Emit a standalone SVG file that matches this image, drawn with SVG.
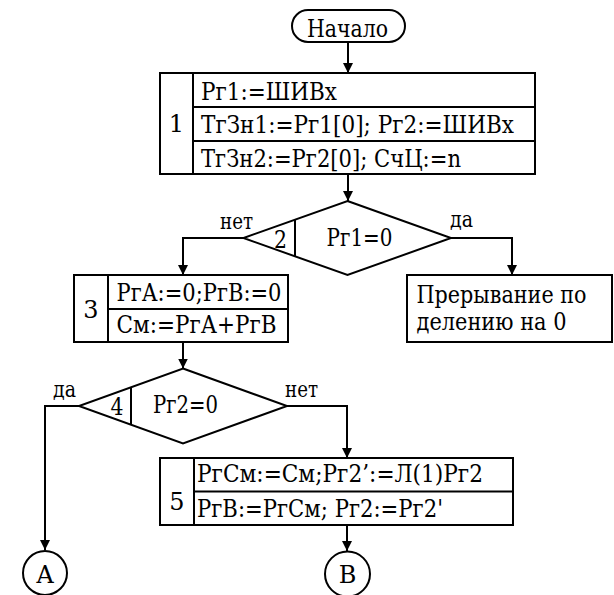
<svg xmlns="http://www.w3.org/2000/svg" width="614" height="595" viewBox="0 0 614 595" font-family="'DejaVu Serif', 'Liberation Serif', serif" font-size="24">
<defs>
<style>
.s{fill:#fff;stroke:#000;stroke-width:2}
.l{fill:none;stroke:#000;stroke-width:2}
.c{fill:none;stroke:#000;stroke-width:2;marker-end:url(#ah)}
.lb{font-size:21.5px}
.m{text-anchor:middle}
.e{font-size:23.5px}
</style>
<marker id="ah" markerWidth="10" markerHeight="12" refX="10" refY="5" orient="auto" markerUnits="userSpaceOnUse" viewBox="0 0 10 10">
<path d="M0,0 L10,5 L0,10 z" fill="#000"/>
</marker>
</defs>
<rect width="614" height="595" fill="#fff"/>
<g id="connectors">
<line class="c" x1="348" y1="42" x2="348" y2="73"/>
<line class="c" x1="348" y1="174" x2="348" y2="201"/>
<polyline class="c" points="243.5,238 183,238 183,275"/>
<polyline class="c" points="451,238 512,238 512,275"/>
<line class="c" x1="183" y1="342" x2="183" y2="368.5"/>
<polyline class="c" points="79,406 45,406 45,550"/>
<polyline class="c" points="287,406 347,406 347,458"/>
<line class="c" x1="347" y1="525" x2="347" y2="551"/>
<text class="lb" x="220" y="229" textLength="33" lengthAdjust="spacingAndGlyphs">нет</text>
<text class="lb" x="450" y="227" textLength="23" lengthAdjust="spacingAndGlyphs">да</text>
<text class="lb" x="53" y="397" textLength="23" lengthAdjust="spacingAndGlyphs">да</text>
<text class="lb" x="285" y="397" textLength="33" lengthAdjust="spacingAndGlyphs">нет</text>
</g>
<g id="start">
<rect class="s" x="292" y="10" width="113" height="32" rx="16"/>
<text x="307" y="37" textLength="81" lengthAdjust="spacingAndGlyphs">Начало</text>
</g>
<g id="b1">
<rect class="s" x="160" y="73" width="375" height="101"/>
<line class="l" x1="193" y1="73" x2="193" y2="174"/>
<line class="l" x1="193" y1="107" x2="535" y2="107"/>
<line class="l" x1="193" y1="141" x2="535" y2="141"/>
<text class="m" x="176.5" y="132">1</text>
<text x="201" y="99.5" textLength="136" lengthAdjust="spacingAndGlyphs">Рг1:=ШИВх</text>
<text x="201" y="133" textLength="313" lengthAdjust="spacingAndGlyphs">ТгЗн1:=Рг1[0]; Рг2:=ШИВх</text>
<text x="201" y="166.5" textLength="260" lengthAdjust="spacingAndGlyphs">ТгЗн2:=Рг2[0]; СчЦ:=n</text>
</g>
<g id="d2">
<polygon class="s" points="347.5,201 451,238 347.5,275 243.5,238"/>
<line class="l" x1="295" y1="219.7" x2="295" y2="256.3"/>
<text x="274" y="248" textLength="13" lengthAdjust="spacingAndGlyphs">2</text>
<text x="326.5" y="245.5" textLength="66" lengthAdjust="spacingAndGlyphs">Рг1=0</text>
</g>
<g id="b3">
<rect class="s" x="74" y="275" width="214" height="67"/>
<line class="l" x1="108" y1="275" x2="108" y2="342"/>
<line class="l" x1="108" y1="309" x2="288" y2="309"/>
<text class="m" x="91" y="318">3</text>
<text x="116.5" y="300.5" textLength="165" lengthAdjust="spacingAndGlyphs">РгА:=0;РгВ:=0</text>
<text x="116.5" y="333" textLength="160" lengthAdjust="spacingAndGlyphs">См:=РгА+РгВ</text>
</g>
<g id="err">
<rect class="s" x="407" y="275" width="205" height="67"/>
<text class="e" x="416.5" y="303" textLength="170" lengthAdjust="spacingAndGlyphs">Прерывание по</text>
<text class="e" x="416.5" y="330" textLength="150" lengthAdjust="spacingAndGlyphs">делению на 0</text>
</g>
<g id="d4">
<polygon class="s" points="183,368.5 287,406 183,443.5 79,406"/>
<line class="l" x1="131" y1="387.3" x2="131" y2="424.7"/>
<text x="110.5" y="415" textLength="13" lengthAdjust="spacingAndGlyphs">4</text>
<text x="153" y="412.5" textLength="65" lengthAdjust="spacingAndGlyphs">Рг2=0</text>
</g>
<g id="b5">
<rect class="s" x="160" y="458" width="353" height="67"/>
<line class="l" x1="194" y1="458" x2="194" y2="525"/>
<line class="l" x1="194" y1="491.5" x2="513" y2="491.5"/>
<text class="m" x="177" y="510">5</text>
<text x="197" y="482" textLength="286" lengthAdjust="spacingAndGlyphs">РгСм:=См;Рг2’:=Л(1)Рг2</text>
<text x="197" y="517" textLength="246" lengthAdjust="spacingAndGlyphs">РгВ:=РгСм; Рг2:=Рг2'</text>
</g>
<g id="ca">
<circle class="s" cx="45" cy="573" r="22"/>
<text class="m" x="45" y="583">А</text>
</g>
<g id="cb">
<circle class="s" cx="347.5" cy="574" r="22.5"/>
<text class="m" x="347.5" y="583">В</text>
</g>
</svg>
